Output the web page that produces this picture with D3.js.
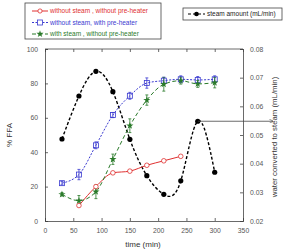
<!DOCTYPE html>
<html>
<head>
<meta charset="utf-8">
<script src="https://cdn.jsdelivr.net/npm/d3@7"></script>
<style>
  body { margin: 0; background: #fff; }
  text { font-family: "Liberation Sans", Arial, sans-serif; }
</style>
</head>
<body>
<script>
// values
var steamTime = [30, 60, 90, 120, 150, 180, 210, 240, 270, 300];
var steamAmount = [0.0486, 0.0636, 0.0722, 0.0651, 0.0485, 0.0358, 0.0293, 0.034, 0.0548, 0.037];

var redTime = [60, 90, 120, 150, 180, 210, 240];
var redFFA = [9, 20, 28, 29, 32.4, 35, 37.6];

var blueTime = [30, 60, 90, 120, 150, 180, 210, 240, 270, 300];
var blueFFA = [22, 27, 44, 61.6, 72.8, 80.2, 81.6, 82.4, 82, 82.4];
var blueErr = [1, 3, 2, 1.5, 2, 3, 2, 2, 2, 2];

var greenTime = [30, 60, 90, 120, 150, 180, 210, 240, 270, 300];
var greenFFA = [15.5, 11.8, 17, 35.9, 55.4, 70.3, 79.5, 81.6, 79.7, 80.4];
var greenErr = [1, 3, 4, 3, 4, 3, 4, 2, 2, 3];

var xTicks = [0, 50, 100, 150, 200, 250, 300, 350];
var yTicks = [0, 20, 40, 60, 80, 100];
var y2Ticks = [0.02, 0.03, 0.04, 0.05, 0.06, 0.07, 0.08];

var svg = d3.select("body").append("svg")
    .attr("width", 284)
    .attr("height", 251);

var x = d3.scaleLinear().domain([0, 350]).range([45, 243]);
var y = d3.scaleLinear().domain([0, 100]).range([221, 49]);
var y2 = d3.scaleLinear().domain([0.02, 0.08]).range([221, 49]);

var grey = "#444";

// axes, ticks pointing inward
var xAxis = svg.append("g").attr("transform", "translate(0,221)")
    .call(d3.axisBottom(x).tickValues(xTicks).tickSize(-3).tickPadding(7));
var xTop = svg.append("g").attr("transform", "translate(0,49)")
    .call(d3.axisBottom(x).tickValues(xTicks).tickSize(3).tickFormat(""));
var yAxis = svg.append("g").attr("transform", "translate(45,0)")
    .call(d3.axisLeft(y).tickValues(yTicks).tickSize(-3).tickPadding(7));
var y2Axis = svg.append("g").attr("transform", "translate(243,0)")
    .call(d3.axisRight(y2).tickValues(y2Ticks).tickSize(-3).tickPadding(7).tickFormat(d3.format(".2f")));

svg.selectAll(".domain").attr("stroke", grey).attr("stroke-width", 0.8);
svg.selectAll(".tick line").attr("stroke", grey).attr("stroke-width", 0.8);
svg.selectAll(".tick text").attr("font-size", 6.8).attr("fill", "#555")
    .attr("font-family", "Liberation Sans, Arial, sans-serif");
xTop.select(".domain").remove();
svg.append("line").attr("x1", 45).attr("x2", 243).attr("y1", 49).attr("y2", 49)
    .attr("stroke", grey).attr("stroke-width", 0.8);

// axis titles
svg.append("text").attr("x", 143).attr("y", 247).attr("text-anchor", "middle")
    .attr("font-size", 8).attr("fill", "#333").text("time (min)");
svg.append("text").attr("transform", "translate(12,135) rotate(-90)")
    .attr("text-anchor", "middle").attr("font-size", 8).attr("fill", "#333").text("% FFA");
svg.append("text").attr("transform", "translate(277,137) rotate(-90)")
    .attr("text-anchor", "middle").attr("font-size", 7.8).attr("fill", "#333")
    .text("water converted to steam (mL/min)");

// steam curve (right axis)
var steamLine = d3.line()
    .x(function(d, i){ return x(steamTime[i]); })
    .y(function(d){ return y2(d); })
    .curve(d3.curveNatural);
svg.append("path").datum(steamAmount)
    .attr("d", steamLine)
    .attr("fill", "none").attr("stroke", "#000").attr("stroke-width", 1.4)
    .attr("stroke-dasharray", "3,2");
svg.selectAll(".steam").data(steamAmount).enter().append("circle")
    .attr("cx", function(d, i){ return x(steamTime[i]); })
    .attr("cy", function(d){ return y2(d); })
    .attr("r", 2.6).attr("fill", "#000");

// arrow pointing from the 270 min point to the right axis
svg.append("defs").append("marker").attr("id", "arr")
    .attr("viewBox", "0 0 10 10").attr("refX", 9).attr("refY", 5)
    .attr("markerWidth", 5).attr("markerHeight", 5).attr("orient", "auto")
    .append("path").attr("d", "M0,0L10,5L0,10").attr("fill", "none").attr("stroke", grey).attr("stroke-width", 1.5);
svg.append("line").attr("x1", x(steamTime[8])).attr("x2", 273)
    .attr("y1", y2(steamAmount[8])).attr("y2", y2(steamAmount[8]))
    .attr("stroke", grey).attr("stroke-width", 0.8).attr("marker-end", "url(#arr)");

// helper for FFA series
function drawSeries(times, vals, errs, color, dash, curve, cls) {
  var line = d3.line()
      .x(function(d, i){ return x(times[i]); })
      .y(function(d){ return y(d); })
      .curve(curve);
  svg.append("path").datum(vals).attr("d", line)
      .attr("fill", "none").attr("stroke", color).attr("stroke-width", 1)
      .attr("stroke-dasharray", dash);
  if (errs) {
    var g = svg.selectAll("." + cls + "err").data(vals).enter().append("g");
    g.append("line")
        .attr("x1", function(d, i){ return x(times[i]); })
        .attr("x2", function(d, i){ return x(times[i]); })
        .attr("y1", function(d, i){ return y(d - errs[i]); })
        .attr("y2", function(d, i){ return y(d + errs[i]); })
        .attr("stroke", color).attr("stroke-width", 0.8);
    [-1, 1].forEach(function(s){
      g.append("line")
          .attr("x1", function(d, i){ return x(times[i]) - 1.5; })
          .attr("x2", function(d, i){ return x(times[i]) + 1.5; })
          .attr("y1", function(d, i){ return y(d + s * errs[i]); })
          .attr("y2", function(d, i){ return y(d + s * errs[i]); })
          .attr("stroke", color).attr("stroke-width", 0.8);
    });
  }
}

drawSeries(redTime, redFFA, null, "#e03030", null, d3.curveMonotoneX, "red");
drawSeries(blueTime, blueFFA, blueErr, "#3a3ad0", "2,1.5", d3.curveMonotoneX, "blue");
drawSeries(greenTime, greenFFA, greenErr, "#2a7a2a", "4,2.5", d3.curveMonotoneX, "green");

svg.selectAll(".redpt").data(redFFA).enter().append("circle")
    .attr("cx", function(d, i){ return x(redTime[i]); })
    .attr("cy", function(d){ return y(d); })
    .attr("r", 2.3).attr("fill", "#fff").attr("stroke", "#e03030").attr("stroke-width", 0.8);
svg.selectAll(".bluept").data(blueFFA).enter().append("rect")
    .attr("x", function(d, i){ return x(blueTime[i]) - 2.5; })
    .attr("y", function(d){ return y(d) - 2.5; })
    .attr("width", 5).attr("height", 5)
    .attr("fill", "none").attr("stroke", "#3a3ad0").attr("stroke-width", 0.8);
svg.selectAll(".greenpt").data(greenFFA).enter().append("path")
    .attr("transform", function(d, i){ return "translate(" + x(greenTime[i]) + "," + y(d) + ")"; })
    .attr("d", d3.symbol().type(d3.symbolStar).size(16))
    .attr("fill", "#2a7a2a");

// legend (left box)
var leg = svg.append("g");
leg.append("rect").attr("x", 25).attr("y", 3).attr("width", 136).attr("height", 36)
    .attr("fill", "#fff").attr("stroke", grey).attr("stroke-width", 0.8);
var legNames = ["without steam , without pre-heater", "without steam, with pre-heater", "with steam , without pre-heater"];
var legColors = ["#e03030", "#3a3ad0", "#2a7a2a"];
var legDash = [null, "2,1.5", "4,2.5"];
legNames.forEach(function(n, i){
  var ly = 11 + i * 11.5;
  leg.append("line").attr("x1", 32).attr("x2", 48).attr("y1", ly).attr("y2", ly)
      .attr("stroke", legColors[i]).attr("stroke-width", 1).attr("stroke-dasharray", legDash[i]);
  if (i == 0) {
    leg.append("circle").attr("cx", 40).attr("cy", ly).attr("r", 2.1)
        .attr("fill", "#fff").attr("stroke", legColors[i]).attr("stroke-width", 0.8);
  } else if (i == 1) {
    leg.append("rect").attr("x", 37.5).attr("y", ly - 2.5).attr("width", 5).attr("height", 5)
        .attr("fill", "#fff").attr("stroke", legColors[i]).attr("stroke-width", 0.8);
  } else {
    leg.append("path").attr("transform", "translate(40," + ly + ")")
        .attr("d", d3.symbol().type(d3.symbolStar).size(16)).attr("fill", legColors[i]);
  }
  leg.append("text").attr("x", 50).attr("y", ly + 2.3).attr("font-size", 6.5)
      .attr("fill", legColors[i]).text(n);
});

// legend (right box)
svg.append("rect").attr("x", 183).attr("y", 8).attr("width", 99).attr("height", 12)
    .attr("fill", "#fff").attr("stroke", grey).attr("stroke-width", 0.8);
svg.append("line").attr("x1", 188).attr("x2", 205).attr("y1", 14).attr("y2", 14)
    .attr("stroke", "#000").attr("stroke-width", 1.2).attr("stroke-dasharray", "3,2");
svg.append("circle").attr("cx", 196.5).attr("cy", 14).attr("r", 2.3).attr("fill", "#000");
svg.append("text").attr("x", 207).attr("y", 16.3).attr("font-size", 6.5).attr("fill", "#222")
    .text("steam amount (mL/min)");
</script>
</body>
</html>
